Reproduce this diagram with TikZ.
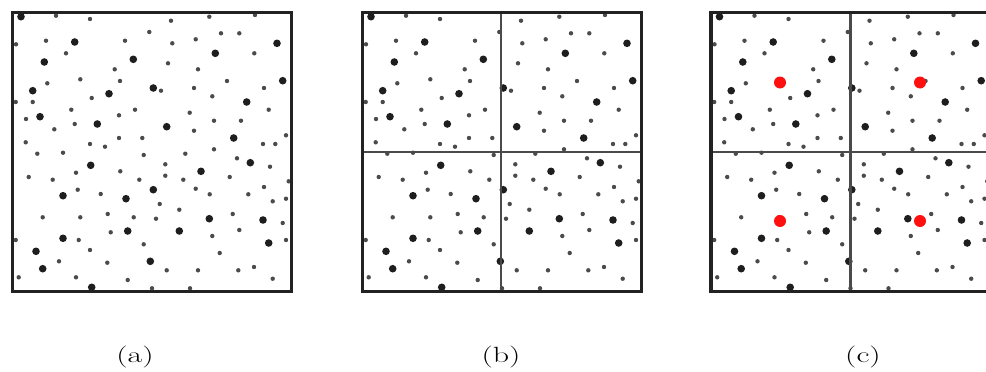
\documentclass[tikz,border=0pt]{standalone}
\usepackage{graphicx}
\usetikzlibrary{calc}
\definecolor{framec}{HTML}{222222}
\definecolor{linec}{HTML}{4A4A4A}
\definecolor{dotc}{HTML}{1E1E1E}
\definecolor{redc}{HTML}{FF1010}
\tikzset{
  framebox/.style={draw=framec, line width=3.6pt},
  divline/.style={draw=linec, line width=2.2pt},
  bigdot/.style={fill=dotc},
  smalldot/.style={fill=dotc!80},
  reddot/.style={fill=redc},
  caption/.style={font=\fontsize{22}{26}\selectfont, inner sep=0pt}
}
\newcommand{\capwide}[1]{\scalebox{1.45}[1]{#1}}
\newcommand{\bigdotlist}{(21,16.7),(74.7,42),(277,43.3),(215.3,53.3),(44.3,62),(133.3,59.3),(282.7,80.7),(32.7,90.7),(153.3,88),(109,93.7),(246.7,102),(40,116.7),(97.3,124),(166.7,126.7),(233.7,138),(250.3,162.7),(90.7,165.3),(201,171.3),(153.3,189.7),(63,195.7),(126,198.7),(209.3,218.7),(263,220),(127.7,231),(179.3,231),(63,238.3),(268.7,243),(36,251.3),(150.3,261.3),(42.7,268.7),(91.7,287.3)}
\newcommand{\smalldotlist}{(56,15.7),(90,19),(171,20.7),(209.3,16.7),(255,15),(149.3,32),(221,33.3),(239.3,33.3),(46,40.7),(125,40.7),(172.3,43.3),(195.7,39.3),(16,44.3),(66,53.3),(254.3,53.3),(168,63.3),(114.7,69.3),(198,69.3),(80.3,79.3),(120,81),(227,81),(47.3,83.3),(161,90.7),(194,88),(264,88),(91.7,98),(212.3,96.3),(15.7,102),(32.7,102),(71.3,109.7),(135,109.7),(268.7,109.7),(189.7,112.7),(26,119),(119,115.3),(214,120.7),(241,120.7),(74.7,124),(54.3,129.3),(194,130.7),(286,135.3),(119,138),(142.3,138),(25.7,142.3),(90,144),(105,146.7),(263,144),(275.3,144),(214,149.3),(37.3,153.7),(63,152.7),(143.7,155),(185.3,153.7),(237,158.3),(165.3,164.3),(270,166.7),(28.7,177),(52.7,179.7),(76,172.7),(120.3,171.3),(165.3,175.7),(139.3,179.7),(183.3,179.7),(229.7,177),(288.7,181.3),(77.7,189.7),(195.7,188.7),(264,187),(100.7,194),(209.7,194.3),(248.3,194.3),(286,198.7),(272.7,201.3),(159.7,204),(179.3,209.7),(107.7,214),(232.7,214),(42.7,217.3),(80.3,217.3),(133.7,217.3),(156,218.7),(282.7,223),(239.3,230),(110.7,232.3),(212.3,236),(78.7,240),(15.7,240),(286,240),(143.7,244.3),(90,250),(219.7,253),(59,261.3),(107.3,262.7),(254,267),(166.7,270.3),(198,270.3),(238.3,270.3),(18.7,277.3),(76,277.3),(127.7,280),(272.7,278.7),(152,288.3),(190,288.3)}
\newcommand{\drawdotfield}{%
  \foreach \p in \bigdotlist {\fill[bigdot] \p circle (3.8);}
  \foreach \p in \smalldotlist {\fill[smalldot] \p circle (2.2);}
}
\begin{document}
\begin{tikzpicture}[x=1pt,y=-1pt]
\useasboundingbox (0,0) rectangle (986,372);
\clip (0,0) rectangle (986,372);
\fill[white] (0,0) rectangle (986,372);
% panel (a)
\begin{scope}
  \drawdotfield
  \draw[framebox] (12.5,12.5) rectangle (291.5,291.5);
\end{scope}
% panel (b)
\begin{scope}[shift={(350,0)}]
  \drawdotfield
  \draw[divline] (151,12.5) -- (151,291.5);
  \draw[divline] (12.5,152) -- (291.5,152);
  \draw[framebox] (12.5,12.5) rectangle (291.5,291.5);
\end{scope}
% panel (c)
\begin{scope}[shift={(698.5,0)}]
  \drawdotfield
  \draw[divline] (152,12.5) -- (152,291.5);
  \draw[divline] (12.5,152) -- (291.5,152);
  \draw[framebox] (12.5,12.5) rectangle (291.5,291.5);
\end{scope}
\coordinate (r1) at (780,82.5);
\coordinate (r2) at (920,82.5);
\coordinate (r3) at (780,221);
\coordinate (r4) at (920,221);
\foreach \r in {r1,r2,r3,r4} {\fill[reddot] (\r) circle (6);}
\node[caption] (la) at (135,357) {\capwide{(a)}};
\node[caption] (lb) at (501,357) {\capwide{(b)}};
\node[caption] (lc) at (863,357) {\capwide{(c)}};
\end{tikzpicture}
\end{document}
